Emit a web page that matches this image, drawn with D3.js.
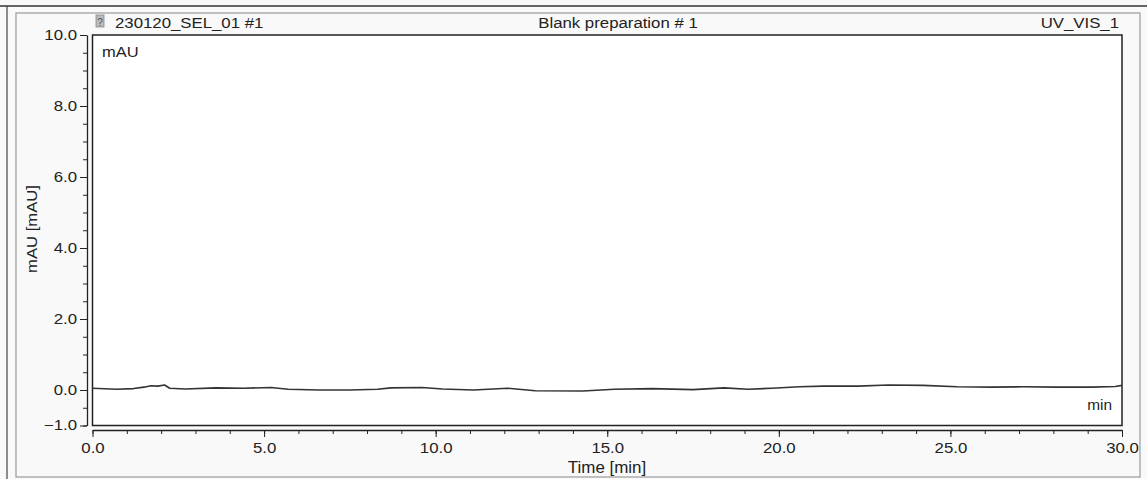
<!DOCTYPE html>
<html>
<head>
<meta charset="utf-8">
<script src="https://cdn.jsdelivr.net/npm/d3@7"></script>
<style>
  body { margin: 0; background: #f9f9f9; }
  svg { display: block; font-family: "Liberation Sans", Arial, sans-serif; }
  .axis text { font-size: 14px; fill: #222; }
  .axis line, .axis path { stroke: #222; }
</style>
</head>
<body>
<div id="page"></div>
<script>
(function() {

  "use strict";

  // retention time (min) and signal (mAU)
  var times = [0, 0.7, 1.2, 1.5, 1.7, 1.9, 2.1, 2.25, 2.7, 3.6, 4.4, 5.2, 5.7, 6.6, 7.5,
    8.3, 8.7, 9.6, 10.2, 11.1, 12.1, 12.9, 14.3, 15.2, 16.3, 17.5, 18.4, 19.1, 19.8,
    20.6, 21.3, 22.3, 23.2, 24.2, 25.2, 26.2, 27.1, 28.1, 29.1, 29.8, 30];
  var signal = [0.05, 0.02, 0.04, 0.08, 0.12, 0.11, 0.14, 0.05, 0.03, 0.06, 0.05, 0.07, 0.02,
    0.0, 0.0, 0.02, 0.06, 0.07, 0.03, 0.0, 0.05, -0.02, -0.03, 0.02, 0.04, 0.01, 0.06, 0.02,
    0.05, 0.09, 0.11, 0.11, 0.14, 0.13, 0.09, 0.08, 0.09, 0.08, 0.08, 0.1, 0.13];

  var xTicks = [0, 5, 10, 15, 20, 25, 30];
  var yTicks = [-1, 0, 2, 4, 6, 8, 10];

  var W = 1147, H = 479;
  var left = 92.5, right = 1122, top = 35, bottom = 425.5;
  var TICK_SX = 1.2;   // scanned printout is stretched a bit sideways

  var svg = d3.select("#page").append("svg")
    .attr("width", W)
    .attr("height", H);

  /* frames from the printout */
  svg.append("line").attr("x1", 0).attr("x2", W).attr("y1", 6).attr("y2", 6)
    .attr("stroke", "#333").attr("stroke-width", 1.5);
  svg.append("line").attr("x1", 7).attr("x2", 7).attr("y1", 6).attr("y2", H)
    .attr("stroke", "#444").attr("stroke-width", 1.2);
  svg.append("rect").attr("x", 16).attr("y", 13).attr("width", 1124).attr("height", 464)
    .attr("fill", "none").attr("stroke", "#999").attr("stroke-width", 1.2);

  var x = d3.scaleLinear().domain([0, 30]).range([left, right]);
  var y = d3.scaleLinear().domain([-1, 10]).range([bottom, top]);

  svg.append("rect")
    .attr("x", x(0)).attr("y", y(10))
    .attr("width", x(30) - x(0)).attr("height", y(-1) - y(10))
    .attr("fill", "#fff").attr("stroke", "#222").attr("stroke-width", 1.5);

  /* y axis */
  var yAxisG = svg.append("g").attr("class", "axis").attr("transform", "translate(87,0)");
  yAxisG.call(d3.axisLeft(y).tickValues(d3.range(-1, 10.01, 0.5)).tickSize(4)
    .tickSizeOuter(0).tickFormat(""));
  yAxisG.select(".domain").attr("stroke-width", 1.3);
  svg.append("g").attr("class", "axis").attr("transform", "translate(87,0)")
    .call(d3.axisLeft(y).tickValues(yTicks).tickSize(7).tickPadding(3).tickSizeOuter(0)
      .tickFormat(d3.format(".1f")))
    .call(function(g) {
      g.select(".domain").remove();
      g.selectAll("text").attr("x", -10 / TICK_SX)
        .attr("transform", "scale(" + TICK_SX + ",1)");
    });

  /* x axis */
  var xAxisG = svg.append("g").attr("class", "axis").attr("transform", "translate(0,430)");
  xAxisG.call(d3.axisBottom(x).tickValues(d3.range(0, 31, 1)).tickSize(4)
    .tickSizeOuter(0).tickFormat(""));
  xAxisG.select(".domain").attr("stroke-width", 1.3);
  svg.append("g").attr("class", "axis").attr("transform", "translate(0,430)")
    .call(d3.axisBottom(x).tickValues(xTicks).tickSize(7).tickPadding(6).tickSizeOuter(0)
      .tickFormat(d3.format(".1f")))
    .call(function(g) {
      g.select(".domain").remove();
      g.selectAll("text").attr("transform", "scale(" + TICK_SX + ",1)");
    });

  /* trace */
  var line = d3.line()
    .x(function(d, i) { return x(times[i]); })
    .y(function(d) { return y(d); });

  svg.append("path")
    .datum(signal)
    .attr("d", line)
    .attr("fill", "none")
    .attr("stroke", "#333")
    .attr("stroke-width", 1.6)
    .attr("stroke-linejoin", "round");

  /* texts */
  var txt = function(tx, ty, s, size, anchor, sx) {
    return svg.append("text")
      .attr("transform", "translate(" + tx + "," + ty + ") scale(" + (sx || 1) + ",1)")
      .text(s)
      .attr("font-size", size).attr("fill", "#222")
      .attr("text-anchor", anchor || "start");
  };

  svg.append("rect").attr("x", 96).attr("y", 15).attr("width", 8).attr("height", 12)
    .attr("fill", "#bbb").attr("stroke", "#888").attr("stroke-width", 0.8);
  txt(100, 26, "?", 10, "middle").attr("fill", "#555");

  txt(115, 28, "230120_SEL_01 #1", 15, "start", 1.12);
  txt(618, 28, "Blank preparation # 1", 15, "middle", 1.12);
  txt(1119, 28, "UV_VIS_1", 15, "end", 1.12);
  txt(102, 57, "mAU", 15, "start", 1.1);
  txt(1112, 410, "min", 14, "end", 1.1);
  txt(607, 473, "Time [min]", 16, "middle", 1.06);
  svg.append("text")
    .attr("transform", "translate(37,229) rotate(-90) scale(1.11,1)")
    .attr("font-size", 15).attr("fill", "#222").attr("text-anchor", "middle")
    .text("mAU [mAU]");

})();
</script>
</body>
</html>
